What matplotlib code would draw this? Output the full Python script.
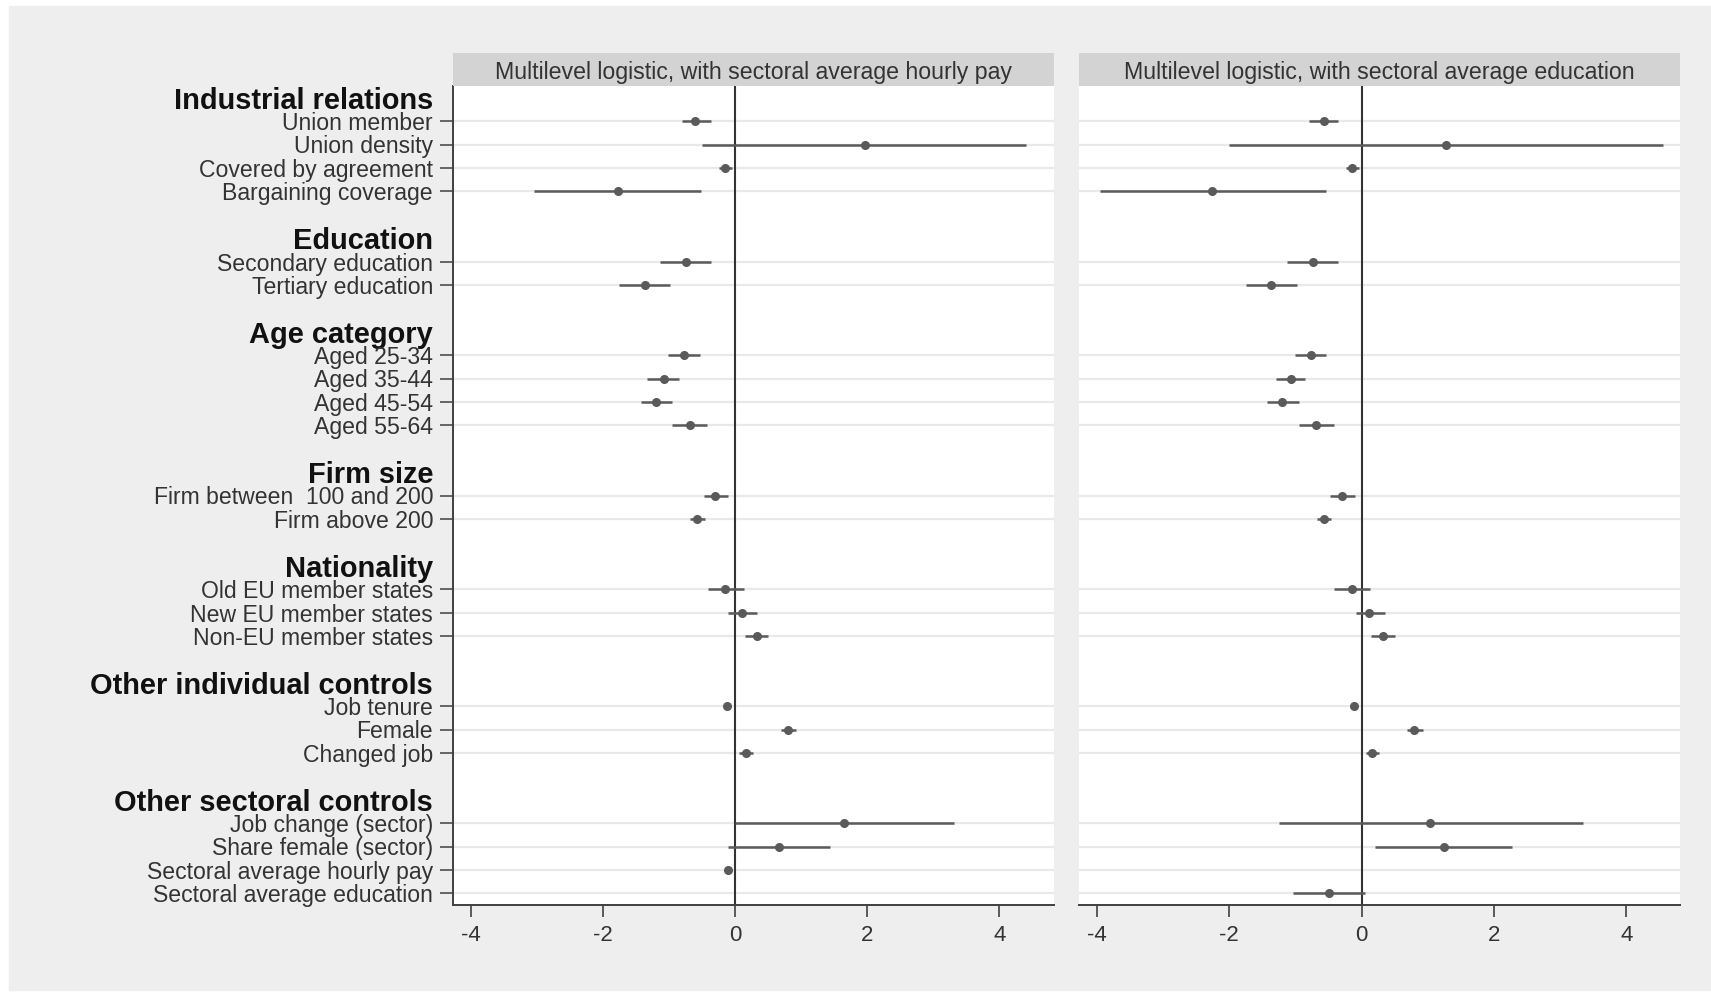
import matplotlib.pyplot as plt
import matplotlib.patches as mpatches
import numpy as np

plt.rcParams['font.family'] = ['Liberation Sans', 'DejaVu Sans']

nan = np.nan

# Row groups: heading, then the variables under it
headings = ["Industrial relations", "Education", "Age category", "Firm size",
            "Nationality", "Other individual controls", "Other sectoral controls"]
group_vars = [
    ["Union member", "Union density", "Covered by agreement", "Bargaining coverage"],
    ["Secondary education", "Tertiary education"],
    ["Aged 25-34", "Aged 35-44", "Aged 45-54", "Aged 55-64"],
    ["Firm between  100 and 200", "Firm above 200"],
    ["Old EU member states", "New EU member states", "Non-EU member states"],
    ["Job tenure", "Female", "Changed job"],
    ["Job change (sector)", "Share female (sector)", "Sectoral average hourly pay",
     "Sectoral average education"],
]

panel_titles = ["Multilevel logistic, with sectoral average hourly pay",
                "Multilevel logistic, with sectoral average education"]

# model 1: with sectoral average hourly pay
pay_b = [-0.60, 1.96, -0.15, -1.77, -0.75, -1.37, -0.78, -1.08, -1.20, -0.69, -0.30,
         -0.57, -0.15, 0.10, 0.33, -0.12, 0.80, 0.16, 1.65, 0.67, -0.10, nan]
pay_lo = [-0.80, -0.50, -0.25, -3.04, -1.14, -1.75, -1.02, -1.33, -1.43, -0.95, -0.47,
          -0.68, -0.41, -0.11, 0.15, -0.15, 0.69, 0.06, 0.00, -0.10, -0.13, nan]
pay_hi = [-0.36, 4.41, -0.05, -0.51, -0.36, -0.99, -0.53, -0.85, -0.95, -0.42, -0.11,
          -0.45, 0.13, 0.33, 0.50, -0.09, 0.92, 0.27, 3.31, 1.43, -0.07, nan]

# model 2: with sectoral average education
edu_b = [-0.575, 1.28, -0.14, -2.26, -0.74, -1.37, -0.77, -1.07, -1.20, -0.69, -0.29,
         -0.57, -0.14, 0.12, 0.33, -0.12, 0.80, 0.16, 1.04, 1.24, nan, -0.49]
edu_lo = [-0.79, -2.00, -0.24, -3.96, -1.12, -1.75, -1.01, -1.30, -1.43, -0.95, -0.47,
          -0.68, -0.41, -0.09, 0.15, -0.15, 0.69, 0.06, -1.25, 0.20, nan, -1.03]
edu_hi = [-0.35, 4.55, -0.04, -0.53, -0.35, -0.98, -0.53, -0.85, -0.94, -0.41, -0.105,
          -0.46, 0.13, 0.35, 0.51, -0.09, 0.93, 0.27, 3.35, 2.27, nan, 0.05]

x_ticks = [-4, -2, 0, 2, 4]

# build row layout: heading row, variable rows, blank row
tick_pos, tick_lab, is_head, var_pos = [], [], [], []
row = 0
for head, vs in zip(headings, group_vars):
    tick_pos.append(row); tick_lab.append(head); is_head.append(True)
    row += 1
    for v in vs:
        tick_pos.append(row); tick_lab.append(v); is_head.append(False)
        var_pos.append(row)
        row += 1
    row += 1

W, H = 1711, 992
fig = plt.figure(figsize=(W / 100, H / 100), dpi=100)
fig.patch.set_facecolor('white')
fig.patches.append(mpatches.Rectangle((9 / W, 2 / H), 1 - 9 / W, 1 - 8 / H,
                                      transform=fig.transFigure, color='#eeeeee', zorder=-10))

axis_col = '#404040'
mark_col = '#5a5a5a'
panels = [(453, 1053.5, pay_b, pay_lo, pay_hi), (1079, 1680.5, edu_b, edu_lo, edu_hi)]
top_px, bot_px, strip_top = 86, 905, 53

for k, (x0, x1, b, lo, hi) in enumerate(panels):
    ax = fig.add_axes([x0 / W, 1 - bot_px / H, (x1 - x0) / W, (bot_px - top_px) / H])
    ax.set_facecolor('white')
    ax.set_xlim(-4.27, 4.82)
    ax.set_ylim(34.5, -0.5)

    for y in var_pos:
        ax.axhline(y, color='#e9e9e9', lw=1.6, zorder=0)
    ax.axvline(0, color='#333333', lw=1.5, zorder=1)

    b, lo, hi = np.array(b), np.array(lo), np.array(hi)
    yp = np.array(var_pos)
    ok = ~np.isnan(b)
    ax.hlines(yp[ok], lo[ok], hi[ok], color=mark_col, lw=1.8, zorder=2)
    ax.plot(b[ok], yp[ok], 'o', color=mark_col, ms=5.5, zorder=3)

    for s in ['top', 'right']:
        ax.spines[s].set_visible(False)
    ax.spines['bottom'].set_color(axis_col)
    ax.spines['bottom'].set_linewidth(1.4)
    ax.set_xticks(x_ticks)
    ax.set_xticklabels([str(t) if t >= 0 else '-' + str(-t) for t in x_ticks])
    ax.tick_params(axis='x', length=8.5, width=1.2, color=axis_col, pad=6,
                   labelsize=16, labelcolor='#333333')

    if k == 0:
        ax.spines['left'].set_color(axis_col)
        ax.spines['left'].set_linewidth(1.4)
        ax.set_yticks(tick_pos)
        ax.set_yticklabels(tick_lab)
        ax.tick_params(axis='y', length=9.4, width=1.1, color=axis_col, pad=5,
                       labelsize=16.6, labelcolor='#333333')
        for t, lab, h in zip(ax.yaxis.get_major_ticks(), ax.get_yticklabels(), is_head):
            if h:
                t.tick1line.set_visible(False)
                lab.set_fontweight('bold')
                lab.set_fontsize(20.9)
                lab.set_color('#111111')
    else:
        ax.spines['left'].set_visible(False)
        ax.set_yticks([])

    # panel title strip
    sax = fig.add_axes([x0 / W, 1 - top_px / H, (x1 - x0) / W, (top_px - strip_top) / H])
    sax.set_facecolor('#d3d3d3')
    sax.set_xticks([]); sax.set_yticks([])
    for s in sax.spines.values():
        s.set_visible(False)
    sax.text(0.5, 0.42, panel_titles[k], ha='center', va='center', fontsize=16.7,
             color='#333333', transform=sax.transAxes)

fig.savefig('out.png', dpi=100)
